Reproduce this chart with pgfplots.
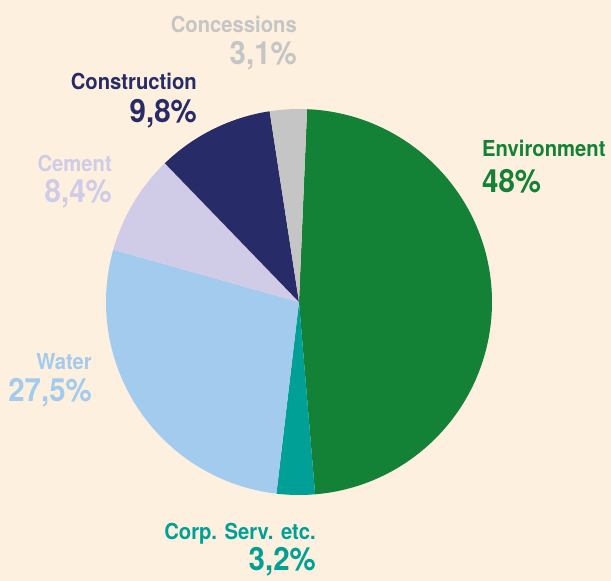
\documentclass[border=0pt]{standalone}
\usepackage{pgfplots}
\usepackage{pgfplotstable}
\pgfplotsset{compat=1.18}
\usepackage{fontspec}
\setmainfont{TeX Gyre Heros}[FakeStretch=0.92]
\definecolor{bg}{HTML}{FDF0DF}
\definecolor{c0}{HTML}{138136}
\definecolor{c1}{HTML}{00A096}
\definecolor{c2}{HTML}{A3CBEE}
\definecolor{c3}{HTML}{D0CCE8}
\definecolor{c4}{HTML}{272B68}
\definecolor{c5}{HTML}{C5C5C5}
\pgfplotstableread{
label pct
Environment 48
Corp 3.2
Water 27.5
Cement 8.4
Construction 9.8
Concessions 3.1
}\piedata
\begin{document}
\begin{tikzpicture}
\pgfmathsetmacro\cum{87.6}
\pgfplotsforeachungrouped \i in {0,...,5}{%
  \pgfplotstablegetelem{\i}{pct}\of\piedata
  \pgfmathsetmacro\endang{\cum - 3.6*\pgfplotsretval}%
  \expandafter\xdef\csname sa\i\endcsname{\cum}%
  \expandafter\xdef\csname ea\i\endcsname{\endang}%
  \global\let\cum\endang
}
\begin{axis}[
  x=1pt, y=1pt, xmin=0, xmax=611, ymin=0, ymax=581,
  hide axis, clip=false, anchor=origin, at={(0,0)},
]
\fill[bg] (axis cs:0,0) rectangle (axis cs:611,581);
\pgfplotsinvokeforeach{0,...,5}{
  \fill[c#1] (axis cs:299,279) -- ++(\csname sa#1\endcsname:193pt)
    arc[start angle=\csname sa#1\endcsname, end angle=\csname ea#1\endcsname, radius=193pt] -- cycle;
}
\def\lab#1#2#3#4#5#6#7{%
  \node[anchor=base #1, text=#2, inner sep=0pt, font=\bfseries\fontsize{22}{24}\selectfont] at (axis cs:#3,#4) {#5};
  \node[anchor=base #1, text=#2, inner sep=0pt, font=\bfseries\fontsize{32}{34}\selectfont] at (axis cs:#3,#6) {#7};
}
\lab{west}{c0}{482}{424}{Environment}{388}{48\%}
\lab{east}{c5}{297}{548}{Concessions}{516}{3,1\%}
\lab{east}{c4}{197}{491}{Construction}{458}{9,8\%}
\lab{east}{c3}{112}{409}{Cement}{378}{8,4\%}
\lab{east}{c2}{92}{211}{Water}{179}{27,5\%}
\lab{east}{c1}{316}{41}{Corp. Serv. etc.}{10}{3,2\%}
\end{axis}
\end{tikzpicture}
\end{document}
